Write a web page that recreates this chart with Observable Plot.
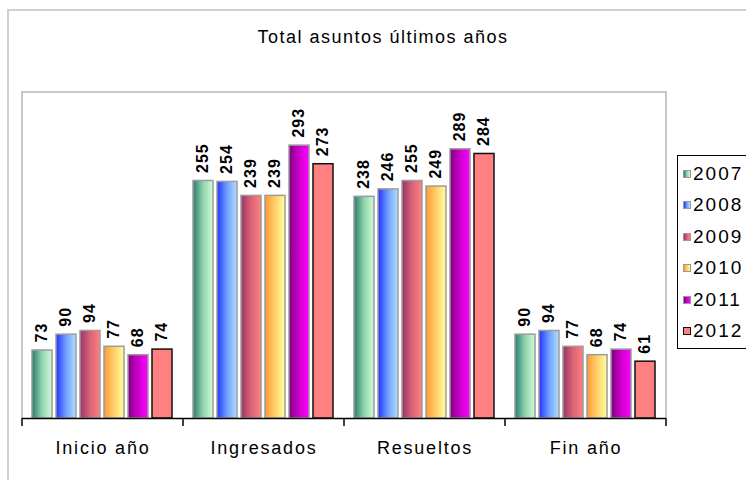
<!DOCTYPE html>
<html>
<head>
<meta charset="utf-8">
<script src="https://cdn.jsdelivr.net/npm/d3@7"></script>
<script src="https://cdn.jsdelivr.net/npm/@observablehq/plot@0.6"></script>
<style>
  html, body { margin: 0; padding: 0; background: #fff; }
  #wrap { position: relative; width: 746px; height: 480px; overflow: hidden; font-family: "Liberation Sans", Arial, sans-serif; }
  #outer { position: absolute; left: 7px; top: 9px; width: 760px; height: 500px; border-top: 2px solid #cfcfcf; border-left: 2px solid #cfcfcf; }
  #title { position: absolute; left: 0; width: 766px; top: 27px; text-align: center; font-size: 18px; letter-spacing: 1.5px; color: #000; line-height: 20px; }
  #chart { position: absolute; left: 0; top: 0; }
  #legend { position: absolute; left: 677px; top: 155px; width: 90px; height: 190px; border: 1px solid #000; box-sizing: content-box; padding-top: 2px; }
  .row { height: 31.5px; display: flex; align-items: center; font-size: 19px; letter-spacing: 2px; }
  .sw { width: 6px; height: 6px; margin-left: 5px; margin-right: 2px; border: 1px solid #999; }
</style>
</head>
<body>
<div id="wrap">
  <div id="outer"></div>
  <div id="chart"></div>
  <div id="title">Total asuntos últimos años</div>
  <div id="legend"></div>
</div>
<script>
const categories = ["Inicio año", "Ingresados", "Resueltos", "Fin año"];
const years = ["2007", "2008", "2009", "2010", "2011", "2012"];
const v2007 = [73, 255, 238, 90];
const v2008 = [90, 254, 246, 94];
const v2009 = [94, 239, 255, 77];
const v2010 = [77, 239, 249, 68];
const v2011 = [68, 293, 289, 74];
const v2012 = [74, 273, 284, 61];
const seriesValues = [v2007, v2008, v2009, v2010, v2011, v2012];

const gradients = [
  ["#2b7d6e", "#8fd4ad", "#d2fad6"],
  ["#2233ff", "#6f9fff", "#b3deff"],
  ["#993366", "#db6377", "#ff8080"],
  ["#ff9933", "#ffcf6a", "#ffff9c"],
  ["#800080", "#cc00cc", "#ff00ff"],
  ["#ff8080", "#ff8080", "#ff8080"]
];
const gradIds = years.map(y => "grad" + y);

const data = [];
years.forEach((y, i) => categories.forEach((c, j) => data.push({cat: c, year: y, value: seriesValues[i][j]})));

const W = 746, H = 480;
const plot = Plot.plot({
  width: W, height: H,
  marginLeft: 21, marginRight: 79, marginTop: 92, marginBottom: 62,
  style: {fontFamily: "'Liberation Sans', Arial, sans-serif", fontSize: "18px", background: "transparent", overflow: "visible"},
  fx: {domain: categories, padding: 0, axis: "bottom", tickSize: 0, tickPadding: 23, label: null},
  x: {domain: years, paddingInner: 0.16, paddingOuter: 0.33, axis: null},
  y: {domain: [0, 350], axis: null},
  color: {type: "ordinal", domain: years, range: gradIds.map(id => `url(#${id})`)},
  marks: [
    Plot.barY(data.filter(d => d.year !== "2012"), {fx: "cat", x: "year", y: "value", fill: "year", stroke: "#9c9c9c", strokeWidth: 1.5}),
    Plot.barY(data.filter(d => d.year === "2012"), {fx: "cat", x: "year", y: "value", fill: "year", stroke: "#111", strokeWidth: 1.5}),
    Plot.ruleY([0], {stroke: "#000", strokeWidth: 1.5}),
    Plot.text(data, {fx: "cat", x: "year", y: "value", text: d => String(d.value), rotate: -90, textAnchor: "start", dy: -8, dx: -1, fontWeight: "bold", fontSize: 16, fill: "#000"})
  ]
});

document.getElementById("chart").appendChild(plot);
const svg = d3.select(plot);

// gradient defs
const defs = svg.insert("defs", ":first-child");
gradIds.forEach((id, i) => {
  const g = defs.append("linearGradient").attr("id", id).attr("x1", 0).attr("x2", 1).attr("y1", 0).attr("y2", 0);
  g.append("stop").attr("offset", 0).attr("stop-color", gradients[i][0]);
  g.append("stop").attr("offset", 0.5).attr("stop-color", gradients[i][1]);
  g.append("stop").attr("offset", 1).attr("stop-color", gradients[i][2]);
});

// axis label styling
svg.selectAll('g[aria-label^="fx-axis"] text').style("font-size", "18px").style("letter-spacing", "1.8px").attr("fill", "#000");
svg.selectAll('g[aria-label="text"] text').style("letter-spacing", "1px");

// plot area frame and category boundary ticks, from the Plot scales
const fx = plot.scale("fx");
const ys = plot.scale("y");
const y0 = ys.apply(0), yTop = ys.apply(350);
const bounds = categories.map(c => fx.apply(c)).concat([fx.apply(categories[categories.length - 1]) + fx.bandwidth]);
const left = bounds[0], right = bounds[bounds.length - 1];
const fr = svg.insert("g", 'g[aria-label="bar"]');
fr.append("path").attr("d", `M${left},${y0}V${yTop}H${right}V${y0}`).attr("fill", "none").attr("stroke", "#c8c8c8").attr("stroke-width", 2);
const tk = svg.append("g");
bounds.forEach(b => tk.append("line").attr("x1", b).attr("x2", b).attr("y1", y0).attr("y2", y0 + 8).attr("stroke", "#000").attr("stroke-width", 1.5));

// legend
const leg = d3.select("#legend");
years.forEach((y, i) => {
  const r = leg.append("div").attr("class", "row");
  const g = gradients[i];
  r.append("div").attr("class", "sw")
    .style("background", `linear-gradient(to right, ${g[0]}, ${g[1]}, ${g[2]})`)
    .style("border-color", y === "2012" ? "#111" : "#999");
  r.append("span").text(y);
});
</script>
</body>
</html>
